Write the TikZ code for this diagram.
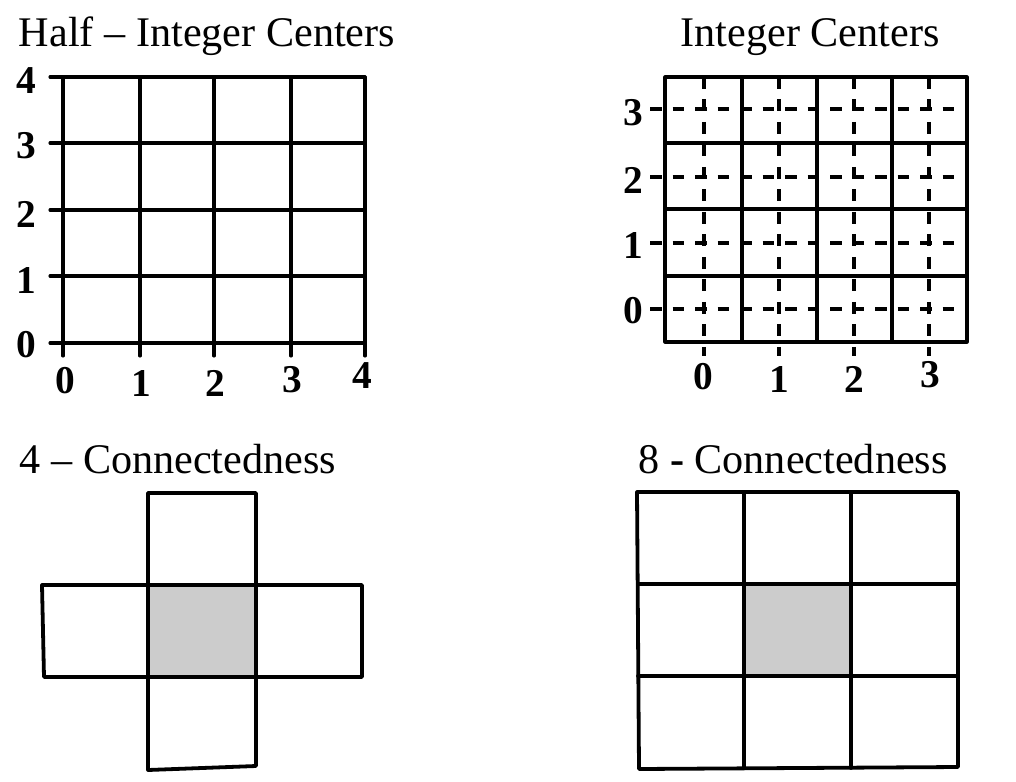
\documentclass[tikz,border=0pt]{standalone}
\usepackage{fontspec}
\setmainfont{Liberation Serif}
\begin{document}
\begin{tikzpicture}[x=0.025cm,y=-0.025cm,
  gridline/.style={line width=2.2pt,line cap=round,line join=round},
  boldline/.style={line width=2.7pt,line cap=round,line join=round},
  dashline/.style={line width=2.3pt,dash pattern=on 8.5pt off 7.5pt},
  title/.style={font=\fontsize{30}{32}\selectfont,anchor=base,inner sep=0pt},
  num/.style={font=\fontsize{28}{30}\selectfont\bfseries,anchor=center,inner sep=0pt},
  cellfill/.style={fill=black!20}]
\useasboundingbox[fill=white] (0,0) rectangle (1016,781);

% ---------- Half-Integer Centers ----------
\node[title] (t1) at (207,47) {Half -- Integer Centers};
\foreach \i/\x in {0/63,1/140,2/214,3/291,4/365}{
  \draw[gridline] (\x,77) -- (\x,356);
}
\foreach \j/\y in {4/77,3/143,2/210,1/276,0/343}{
  \draw[gridline] (50,\y) -- (365,\y);
}
\node[num] (ly4) at (26,81) {4};
\node[num] (ly3) at (26,146) {3};
\node[num] (ly2) at (26,214) {2};
\node[num] (ly1) at (26,281) {1};
\node[num] (ly0) at (26,345) {0};
\node[num] (lx0) at (65,381) {0};
\node[num] (lx1) at (141,383) {1};
\node[num] (lx2) at (215,383) {2};
\node[num] (lx3) at (292,380) {3};
\node[num] (lx4) at (362,376) {4};

% ---------- Integer Centers ----------
\node[title] (t2) at (810,47) {Integer Centers};
\draw[gridline] (665,77) rectangle (967,342);
\foreach \x in {742,817,892}{
  \draw[gridline] (\x,77) -- (\x,342);
}
\foreach \y in {143,209,276}{
  \draw[gridline] (665,\y) -- (967,\y);
}
\foreach \x in {704,779,854,929}{
  \draw[dashline] (\x,77) -- (\x,356);
}
\foreach \y in {109,177,243,309}{
  \draw[dashline] (650,\y) -- (966,\y);
}
\node[num] (ry3) at (633,113) {3};
\node[num] (ry2) at (633,180) {2};
\node[num] (ry1) at (633,246) {1};
\node[num] (ry0) at (633,311) {0};
\node[num] (rx0) at (703,377) {0};
\node[num] (rx1) at (779,379) {1};
\node[num] (rx2) at (854,379) {2};
\node[num] (rx3) at (930,375) {3};

% ---------- 4-Connectedness ----------
\node[title] (t3) at (178,473) {4 -- Connectedness};
\fill[cellfill] (148,585) rectangle (256,677);
\draw[boldline] (148,493) rectangle (256,585);
\draw[boldline] (148,677) -- (148,770) -- (256,766) -- (256,677);
\draw[boldline] (148,585) -- (42,585) -- (44,677) -- (148,677);
\draw[boldline] (256,585) -- (362,585) -- (362,677) -- (256,677);
\draw[boldline] (148,585) rectangle (256,677);

% ---------- 8-Connectedness ----------
\node[title] (t4) at (793,473) {8 {\bfseries -} Connectedness};
\fill[cellfill] (744,584) rectangle (851,676);
\draw[boldline] (637,492) -- (958,492) -- (958,767) -- (639,769) -- cycle;
\draw[boldline] (744,492) -- (744,768);
\draw[boldline] (851,492) -- (851,768);
\draw[boldline] (638,584) -- (958,584);
\draw[boldline] (638,676) -- (958,676);
\end{tikzpicture}
\end{document}
